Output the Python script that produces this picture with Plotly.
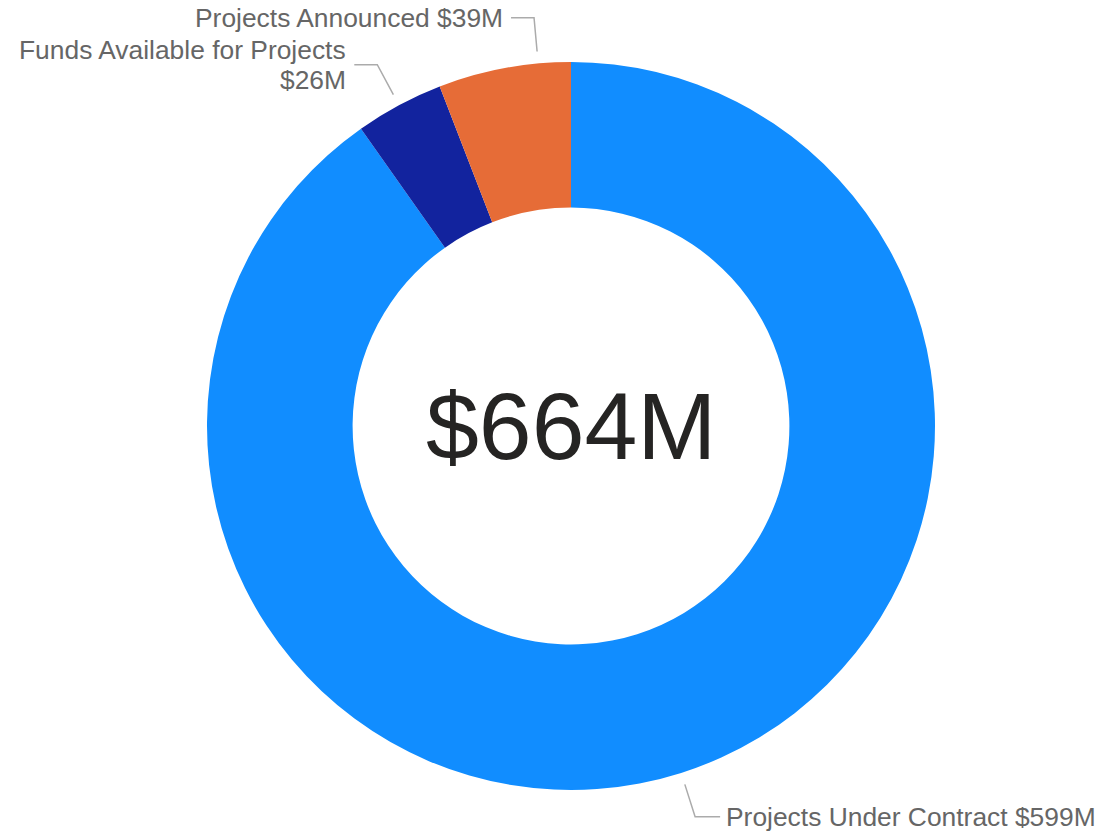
import math
import plotly.graph_objects as go

# ---- data ----
categories = ["Projects Under Contract", "Funds Available for Projects", "Projects Announced"]
values = [599, 26, 39]            # $M
value_labels = ["$599M", "$26M", "$39M"]
center_label = "$664M"
colors = ["#118DFF", "#12239E", "#E66C37"]

# ---- layout constants (pixels, figure coords; page adds an 8px body margin) ----
W, H = 1097, 826
OFF = 8
CX, CY, R = 571 - OFF, 426 - OFF, 364
HOLE = 0.6
FONT = "Arial, Liberation Sans, sans-serif"
LABEL_COLOR = "#666666"
LINE_COLOR = "#ABABAB"
LABEL_SIZE = 26.4
LINE_GAP = 30
label_nudge_deg = [0, 0, 5.4]    # label collision nudge (as the source tool does)
label_lines = [
    [f"{categories[0]} {value_labels[0]}"],
    [categories[1], value_labels[1]],
    [f"{categories[2]} {value_labels[2]}"],
]

def px(x, y):
    return x / W, 1 - y / H

fig = go.Figure(go.Pie(
    labels=categories,
    values=values,
    hole=HOLE,
    sort=False,
    direction="clockwise",
    rotation=0,
    marker=dict(colors=colors, line=dict(width=0)),
    textinfo="none",
    hoverinfo="label+value",
    showlegend=False,
    domain=dict(x=[(CX - R) / W, (CX + R) / W],
                y=[(H - CY - R) / H, (H - CY + R) / H]),
))

shapes, annotations = [], []
total = sum(values)
cum = 0
for i, v in enumerate(values):
    mid = (cum + v / 2) / total * 360 + label_nudge_deg[i]
    cum += v
    a = math.radians(mid)
    sx, sy = CX + (R + 12) * math.sin(a), CY - (R + 12) * math.cos(a)
    ex, ey = CX + (R + 46) * math.sin(a), CY - (R + 46) * math.cos(a)
    right = math.sin(a) >= 0
    hx = ex + (25 if right else -23)
    pts = [px(sx, sy), px(ex, ey), px(hx, ey)]
    path = "M {} {} L {} {} L {} {}".format(pts[0][0], pts[0][1], pts[1][0], pts[1][1], pts[2][0], pts[2][1])
    shapes.append(dict(type="path", path=path, xref="paper", yref="paper",
                       line=dict(color=LINE_COLOR, width=1.5)))
    tx = hx + (5 if right else -7)
    lines = label_lines[i]
    n = len(lines)
    for k, line in enumerate(lines):
        ty = ey + (k - (n - 1) / 2) * LINE_GAP
        tpx = px(tx, ty)
        annotations.append(dict(
            x=tpx[0], y=tpx[1], xref="paper", yref="paper",
            text=line, showarrow=False, borderpad=0,
            xanchor="left" if right else "right", yanchor="middle",
            align="left" if right else "right",
            font=dict(family=FONT, size=LABEL_SIZE, color=LABEL_COLOR),
        ))

c = px(CX, CY)
annotations.append(dict(x=c[0], y=c[1], xref="paper", yref="paper",
                        text=center_label, showarrow=False,
                        xanchor="center", yanchor="middle",
                        font=dict(family=FONT, size=95, color="#252423")))

fig.update_layout(
    width=W, height=H,
    margin=dict(l=0, r=0, t=0, b=0),
    paper_bgcolor="white", plot_bgcolor="white",
    shapes=shapes, annotations=annotations,
)

fig.write_html("out.html")
